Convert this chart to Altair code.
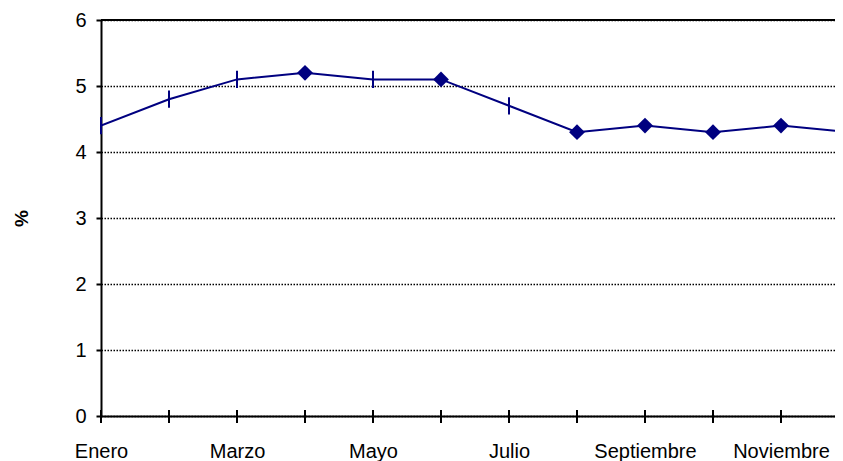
import altair as alt
import pandas as pd

months = ["Enero", "Febrero", "Marzo", "Abril", "Mayo", "Junio", "Julio",
          "Agosto", "Septiembre", "Octubre", "Noviembre", "Diciembre"]
values = [4.4, 4.8, 5.1, 5.2, 5.1, 5.1, 4.7, 4.3, 4.4, 4.3, 4.4, 4.3]
markers = ["tick", "tick", "tick", "diamond", "tick", "diamond", "tick",
           "diamond", "diamond", "diamond", "diamond", "diamond"]
y_ticks = [0, 1, 2, 3, 4, 5, 6]

df = pd.DataFrame({"idx": list(range(len(months))), "mes": months,
                   "valor": values, "marcador": markers})

W, H = 734, 396
STEP = 68
NAVY = "#000080"
FONT = "Liberation Sans"

x_scale = alt.Scale(domain=[0, W / STEP], nice=False, zero=False)
y_scale = alt.Scale(domain=[0, 6], nice=False)

label_js = "[" + ",".join(f"'{m}'" for m in months) + "]"

x_axis = alt.Axis(values=list(range(11)), ticks=False, grid=False,
                  domainColor="black", domainWidth=2,
                  labelExpr=f"datum.value % 2 == 0 ? {label_js}[datum.value] : ''",
                  labelFontSize=20, labelColor="black", labelPadding=25,
                  labelFlush=False, labelOverlap=False, title=None)
y_axis = alt.Axis(values=y_ticks, format="d", grid=True, gridColor="black",
                  gridDash=[1.5, 1.5], gridWidth=1.5, gridOpacity=1,
                  tickSize=5, tickColor="black", tickWidth=2,
                  domainColor="black", domainWidth=2,
                  labelFontSize=20, labelColor="black", labelPadding=10,
                  title="%", titleFontSize=19, titleFontWeight="bold",
                  titleColor="black", titleX=-80, titleY=H / 2,
                  titleAlign="center", titleBaseline="middle", titleAngle=270)

x_enc = alt.X("idx:Q", scale=x_scale, axis=x_axis)
y_enc = alt.Y("valor:Q", scale=y_scale, axis=y_axis)

base = alt.Chart(df)

line = base.mark_line(color=NAVY, strokeWidth=2, clip=True).encode(x=x_enc, y=y_enc)

top_rule = base.transform_filter("datum.idx == 0").mark_rule(
    color="black", strokeWidth=2).encode(y=alt.datum(6, scale=y_scale))

cross_ticks = base.transform_filter("datum.idx <= 10").mark_rule(
    color="black", strokeWidth=2).encode(x=x_enc, y=alt.value(390), y2=alt.value(403))

diamonds = base.transform_filter("datum.marcador == 'diamond' && datum.idx <= 10").mark_point(
    shape="diamond", filled=True, color=NAVY, size=250, opacity=1
).encode(x=x_enc, y=y_enc)

tick_marks = base.transform_filter("datum.marcador == 'tick'").mark_point(
    shape="M0,-1L0,1", filled=False, color=NAVY, strokeWidth=2, size=300, opacity=1
).encode(x=x_enc, y=y_enc)

chart = alt.layer(line, top_rule, cross_ticks, diamonds, tick_marks).properties(
    width=W, height=H,
    autosize=alt.AutoSizeParams(type="none"),
    padding={"left": 93, "top": 12, "right": 0, "bottom": 48},
).configure_axis(labelFont=FONT, titleFont=FONT).configure_view(stroke=None)

chart.save("out.html", embed_options={"renderer": "svg", "actions": False})
